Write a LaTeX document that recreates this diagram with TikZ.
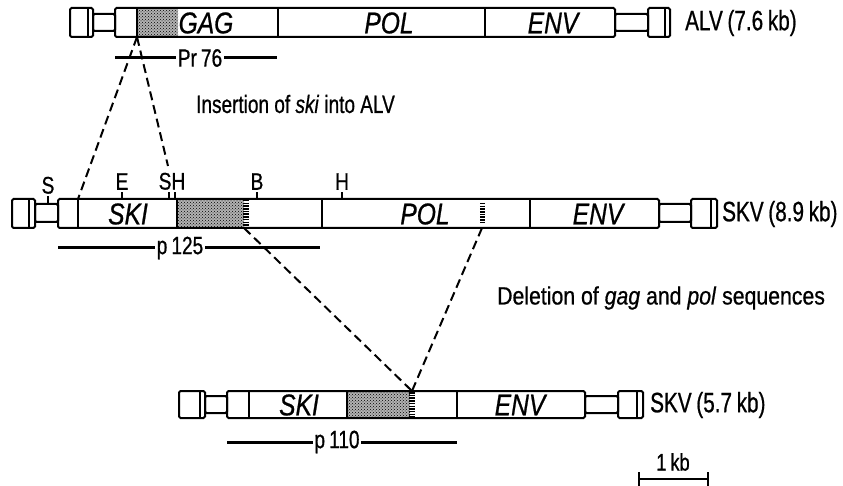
\documentclass[tikz,border=0pt]{standalone}
\usepackage{fontspec}
\setmainfont[FakeStretch=0.82,FakeBold=0.7]{Liberation Sans}
\newfontfamily\capfont[FakeStretch=0.76,FakeBold=0.7]{Liberation Sans}
\newfontfamily\capfontw[FakeStretch=0.85,FakeBold=0.7]{Liberation Sans}
\newfontfamily\labfont[FakeStretch=0.74,FakeBold=0.7]{Liberation Sans}
\newfontfamily\sitefont[FakeStretch=0.8,FakeBold=0.7]{Liberation Sans}
\usetikzlibrary{patterns}
\begin{document}
\begin{tikzpicture}[x=1pt,y=-1pt,
  bar/.style={line width=2pt, rounded corners=1.5pt},
  sep/.style={line width=2pt},
  stip/.style={pattern=crosshatch dots, pattern color=black},
  stipbg/.style={fill=black!30},
  hatchmark/.style={line width=5.5pt, dash pattern=on 1.5pt off 1.2pt},
  gene/.style={font=\fontsize{30}{30}\selectfont\itshape, inner sep=0pt},
  vlabel/.style={font=\labfont\fontsize{28}{28}\selectfont, anchor=west, inner sep=0pt},
  captext/.style={font=\capfont\fontsize{25}{25}\selectfont, anchor=west, inner sep=0pt},
  captextw/.style={font=\capfontw\fontsize{25}{25}\selectfont, anchor=west, inner sep=0pt},
  plabel/.style={font=\capfont\fontsize{25}{25}\selectfont, inner sep=1.5pt, fill=white},
  site/.style={font=\sitefont\fontsize{24}{24}\selectfont, inner sep=0pt, anchor=south},
  conn/.style={line width=2pt, dash pattern=on 9pt off 5pt},
  prot/.style={line width=3pt},
  tick/.style={line width=2pt},
]
\useasboundingbox (0,0) rectangle (843,486);

% ---------- Row 1: ALV ----------
\draw[bar] (70,8) rectangle (93,37);
\draw[sep] (88,8) -- (88,37);
\draw[bar] (93,14) rectangle (115,31);
\fill[stipbg] (137,8) rectangle (178,37);
\fill[stip] (137,8) rectangle (178,37);
\draw[bar] (115,8) rectangle (615,37);
\draw[sep] (137,8) -- (137,37) (278,8) -- (278,37) (485,8) -- (485,37);
\draw[bar] (615,14) rectangle (648,31);
\draw[bar] (648,8) rectangle (670,37);
\draw[sep] (665,8) -- (665,37);
\node[gene] (gag) at (206,23) {GAG};
\node[gene] (pol1) at (389,23) {POL};
\node[gene] (env1) at (553,23) {ENV};
\node[vlabel] (alv) at (685,23) {ALV\,(7.6\,kb)};

\draw[prot] (115,58) -- (277,58);
\node[plabel] (pr76) at (200,58) {Pr\,76};

\node[captext] (ins) at (196,104) {Insertion of \textit{ski} into ALV};

% ---------- Row 2: SKV 8.9 kb ----------
\draw[bar] (12,199) rectangle (35,228);
\draw[sep] (29,199) -- (29,228);
\draw[bar] (35,204) rectangle (58,222);
\fill[stipbg] (177,199) rectangle (244,228);
\fill[stip] (177,199) rectangle (244,228);
\draw[bar] (58,199) rectangle (659,228);
\draw[sep] (78,199) -- (78,228) (177,199) -- (177,228) (322,199) -- (322,228) (530,199) -- (530,228);
\draw[hatchmark] (246,200) -- (246,228);
\draw[hatchmark] (482.5,203) -- (482.5,224);
\draw[bar] (659,204) rectangle (691,222);
\draw[bar] (691,199) rectangle (717,228);
\draw[sep] (711,199) -- (711,228);
\node[gene] (ski2) at (128,214) {SKI};
\node[gene] (pol2) at (425,214) {POL};
\node[gene] (env2) at (598,214) {ENV};
\node[vlabel] (skv1) at (722,214) {SKV\,(8.9\,kb)};

% restriction sites
\draw[tick] (48,204) -- (48,196);
\node[site] (s1) at (48,194) {S};
\draw[tick] (122,199) -- (122,192);
\node[site] (e1) at (122,190) {E};
\draw[tick] (169,199) -- (169,192);
\draw[line width=2.8pt] (175,199) -- (175,192);
\node[site] (sh) at (172,190) {SH};
\draw[tick] (257,199) -- (257,192);
\node[site] (b1) at (257,190) {B};
\draw[tick] (342,199) -- (342,192);
\node[site] (h2) at (342,190) {H};

\draw[prot] (58,248) -- (320,248);
\node[plabel] (p125) at (180,248) {p\,125};

% insertion connectors
\coordinate (ins0) at (137,37);
\coordinate (insL) at (78,199);
\coordinate (insR) at (168,166);
\draw[conn] (ins0) -- (insL);
\draw[conn] (ins0) -- (insR);

\node[captextw] (del) at (497,298) {Deletion of \textit{gag} and \textit{pol} sequences};

% ---------- Row 3: SKV 5.7 kb ----------
\draw[bar] (179,391) rectangle (205,418);
\draw[sep] (200,391) -- (200,418);
\draw[bar] (205,396) rectangle (227,413);
\fill[stipbg] (347,391) rectangle (410,418);
\fill[stip] (347,391) rectangle (410,418);
\draw[bar] (227,391) rectangle (585,418);
\draw[sep] (249,391) -- (249,418) (347,391) -- (347,418) (457,391) -- (457,418);
\draw[hatchmark] (412,392) -- (412,418);
\draw[bar] (585,396) rectangle (618,413);
\draw[bar] (618,391) rectangle (643,418);
\draw[sep] (637,391) -- (637,418);
\node[gene] (ski3) at (299,405) {SKI};
\node[gene] (env3) at (520,405) {ENV};
\node[vlabel] (skv2) at (650,405) {SKV\,(5.7\,kb)};

\draw[prot] (227,442) -- (457,442);
\node[plabel] (p110) at (337,442) {p\,110};

% deletion connectors
\coordinate (delA) at (244,228);
\coordinate (delB) at (482,228);
\coordinate (apex) at (412,391);
\draw[conn] (delA) -- (apex);
\draw[conn] (delB) -- (apex);

% scale bar
\coordinate (sc0) at (639,479);
\coordinate (sc1) at (708,479);
\draw[line width=2pt] (sc0) -- (sc1);
\draw[line width=2pt] (639,472) -- (639,487) (708,472) -- (708,487);
\node[font=\capfont\fontsize{24}{24}\selectfont, inner sep=0pt] (kb) at (673,462) {1\,kb};
\end{tikzpicture}
\end{document}
